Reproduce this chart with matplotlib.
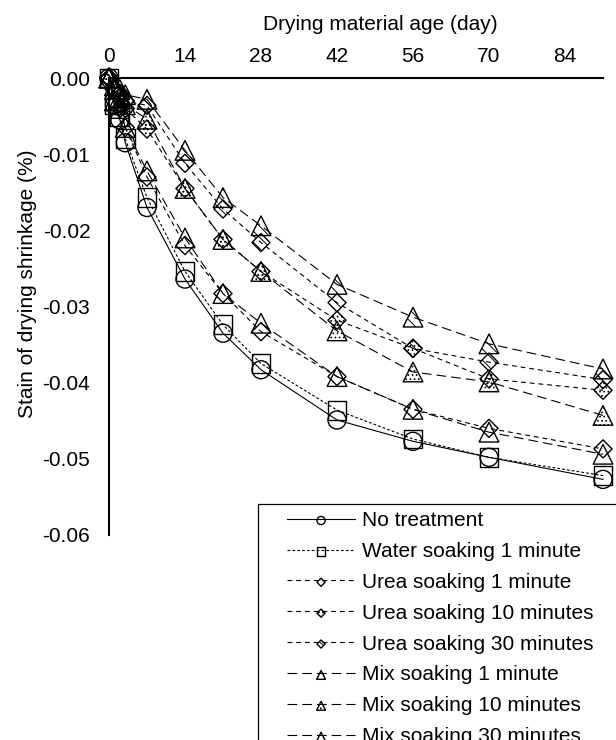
import numpy as np
import matplotlib
matplotlib.use("Agg")
import matplotlib.pyplot as plt
from matplotlib.ticker import FormatStrFormatter
from matplotlib.patches import Rectangle

plt.rcParams['font.family'] = ['Liberation Sans', 'DejaVu Sans']
plt.rcParams['axes.unicode_minus'] = False
plt.rcParams['lines.scale_dashes'] = False
plt.rcParams['hatch.linewidth'] = 0.7

days = [0, 1, 2, 3, 7, 14, 21, 28, 42, 56, 70, 91]

no_treatment = [0, -0.0035, -0.0055, -0.0085, -0.0170, -0.0264, -0.0335, -0.0383, -0.0449, -0.0477, -0.0498, -0.0527]
water_1 = [0, -0.0035, -0.0050, -0.0080, -0.0157, -0.0254, -0.0324, -0.0375, -0.0436, -0.0474, -0.0498, -0.0522]
urea_1 = [0, -0.0030, -0.0040, -0.0065, -0.0130, -0.0220, -0.0283, -0.0333, -0.0392, -0.0435, -0.0460, -0.0487]
urea_10 = [0, -0.0015, -0.0025, -0.0040, -0.0067, -0.0145, -0.0212, -0.0254, -0.0318, -0.0355, -0.0395, -0.0410]
urea_30 = [0, -0.0015, -0.0020, -0.0030, -0.0036, -0.0112, -0.0172, -0.0216, -0.0295, -0.0355, -0.0373, -0.0396]
mix_1 = [0, -0.0030, -0.0040, -0.0065, -0.0122, -0.0210, -0.0283, -0.0322, -0.0392, -0.0435, -0.0465, -0.0494]
mix_10 = [0, -0.0015, -0.0025, -0.0035, -0.0054, -0.0145, -0.0212, -0.0254, -0.0332, -0.0386, -0.0399, -0.0443]
mix_30 = [0, -0.0010, -0.0015, -0.0022, -0.0028, -0.0095, -0.0157, -0.0194, -0.0271, -0.0314, -0.0349, -0.0382]

labels = ["No treatment", "Water soaking 1 minute", "Urea soaking 1 minute",
          "Urea soaking 10 minutes", "Urea soaking 30 minutes", "Mix soaking 1 minute",
          "Mix soaking 10 minutes", "Mix soaking 30 minutes"]
series = [no_treatment, water_1, urea_1, urea_10, urea_30, mix_1, mix_10, mix_30]

dot_ls = (0, (2, 1.5))
urea_ls = (0, (3.5, 2.8))
mix_ls = (0, (7, 3.6))
styles = [
    ('-', 'o', 169, None),
    (dot_ls, 's', 185, None),
    (urea_ls, 'D', 85, None),
    (urea_ls, 'D', 85, '....'),
    (urea_ls, 'D', 85, '\\\\\\'),
    (mix_ls, '^', 200, None),
    (mix_ls, '^', 200, '....'),
    (mix_ls, '^', 200, '\\\\\\'),
]

fs = 15

fig = plt.figure(figsize=(6.16, 7.40), dpi=100)
ax = fig.add_axes([109 / 616, 1 - 535 / 740, 494 / 616, 457 / 740])

handles = []
for vals, lab, (ls, mk, sz, hatch) in zip(series, labels, styles):
    ln, = ax.plot(days, vals, color='black', lw=0.8, linestyle=ls, clip_on=False, zorder=2)
    sc = ax.scatter(days, vals, marker=mk, s=sz, facecolors='none', edgecolors='black',
                    linewidths=1.0, hatch=hatch, clip_on=False, zorder=3)
    handles.append((ln, sc))

ax.set_xlim(0, 91)
ax.set_ylim(-0.06, 0)
ax.set_xticks([0, 14, 28, 42, 56, 70, 84])
ax.set_yticks([0, -0.01, -0.02, -0.03, -0.04, -0.05, -0.06])
ax.yaxis.set_major_formatter(FormatStrFormatter('%.2f'))

ax.xaxis.tick_top()
ax.tick_params(axis='x', length=0, pad=9, labelsize=fs)
ax.tick_params(axis='y', length=0, pad=13.5, labelsize=fs)

for side in ['right', 'bottom']:
    ax.spines[side].set_visible(False)
for side in ['top', 'left']:
    ax.spines[side].set_linewidth(1.5)

ax.set_xlabel("Drying material age (day)", fontsize=fs)
ax.xaxis.set_label_position('top')
ax.xaxis.set_label_coords(0.55, 1 + (78 - 24) / 457)
ax.xaxis.label.set_verticalalignment('center')

ax.set_ylabel("Stain of drying shrinkage (%)", fontsize=fs)
ax.yaxis.set_label_coords((28 - 109) / 494, 1 - (284 - 78) / 457)
ax.yaxis.label.set_verticalalignment('center')

# legend box runs off the figure edge like the original
fig.patches.append(Rectangle((258 / 616, -0.2), 0.7, 1 - 504 / 740 + 0.2,
                             transform=fig.transFigure, facecolor='white',
                             edgecolor='black', lw=0.9, zorder=1))
leg = fig.legend(handles, labels, loc='upper left',
                 bbox_to_anchor=(287 / 616, 1 - 511 / 740),
                 frameon=False, fontsize=fs, borderpad=0, borderaxespad=0,
                 handlelength=3.27, handletextpad=0.34, labelspacing=0.57,
                 markerscale=0.45, scatterpoints=1)
leg.set_zorder(5)

fig.savefig("out.png", dpi=100)
